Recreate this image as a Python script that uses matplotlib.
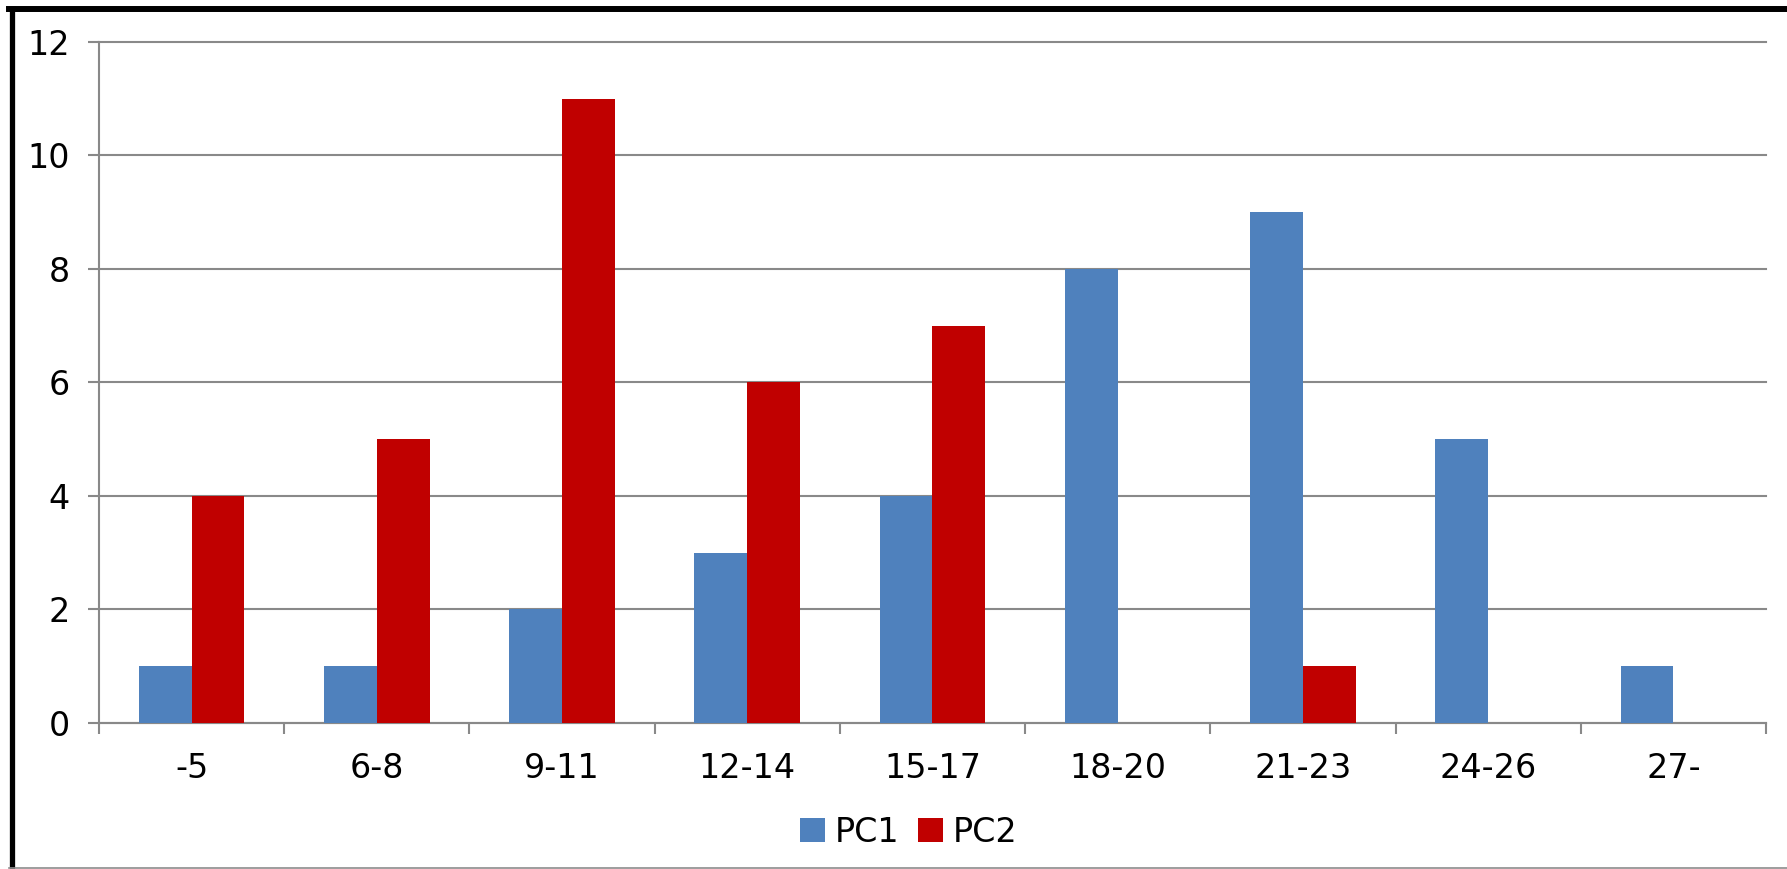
import matplotlib
matplotlib.use("Agg")
import matplotlib.pyplot as plt
from matplotlib.lines import Line2D
from matplotlib.patches import Patch
import numpy as np

categories = ["-5", "6-8", "9-11", "12-14", "15-17", "18-20", "21-23", "24-26", "27-"]
pc1 = [1, 1, 2, 3, 4, 8, 9, 5, 1]
pc2 = [4, 5, 11, 6, 7, 0, 1, 0, 0]
series_names = ["PC1", "PC2"]
colors = ["#4F81BD", "#C00000"]
yticks = [0, 2, 4, 6, 8, 10, 12]

W, H = 1787, 869
fig = plt.figure(figsize=(W / 100, H / 100), dpi=100)
plt.rcParams['font.family'] = ['DejaVu Sans']
FS = 24

ax = fig.add_axes([99 / W, 1 - 722.7 / H, (1766 - 99) / W, (722.7 - 42) / H])
x = np.arange(len(categories))
bw = 0.285
ax.bar(x - bw / 2, pc1, width=bw, color=colors[0], linewidth=0, zorder=3)
ax.bar(x + bw / 2, pc2, width=bw, color=colors[1], linewidth=0, zorder=3)

ax.set_xlim(-0.5, len(categories) - 0.5)
ax.set_ylim(0, 12)
grid_c = "#898989"
ax.set_yticks(yticks)
ax.set_yticklabels([str(v) for v in yticks], fontsize=FS)
ax.yaxis.grid(True, color=grid_c, linewidth=1.5, zorder=0)
for gl in ax.get_ygridlines():
    gl.set_clip_on(False)
ax.set_xticks(x)
ax.set_xticklabels(categories, fontsize=FS)
ax.set_xticks(np.arange(len(categories) + 1) - 0.5, minor=True)
ax.tick_params(axis='x', which='major', length=0, pad=21)
ax.tick_params(axis='x', which='minor', length=8, width=1.5, color=grid_c)
ax.tick_params(axis='y', length=8, width=1.5, color=grid_c, pad=13)
for s in ["top", "right"]:
    ax.spines[s].set_visible(False)
for s in ["left", "bottom"]:
    ax.spines[s].set_color(grid_c)
    ax.spines[s].set_linewidth(1.5)

handles = [Patch(facecolor=c, edgecolor='none') for c in colors]
fig.legend(handles, series_names, loc='center', bbox_to_anchor=(909 / W, 1 - 832 / H),
           ncol=2, frameon=False, fontsize=FS, handlelength=0.75, handleheight=0.75,
           handletextpad=0.3, columnspacing=0.55)

# chart border: thick black top/left, thin gray bottom
fig.add_artist(Line2D([9 / W, 1], [1 - 9 / H, 1 - 9 / H], color='black', linewidth=4.3, transform=fig.transFigure))
fig.add_artist(Line2D([11.5 / W, 11.5 / W], [1 - 9 / H, 0], color='black', linewidth=3.8, transform=fig.transFigure))
fig.add_artist(Line2D([9 / W, 1], [1.5 / H, 1.5 / H], color='#8c8c8c', linewidth=1.2, transform=fig.transFigure))

fig.savefig("out.png", dpi=100)
